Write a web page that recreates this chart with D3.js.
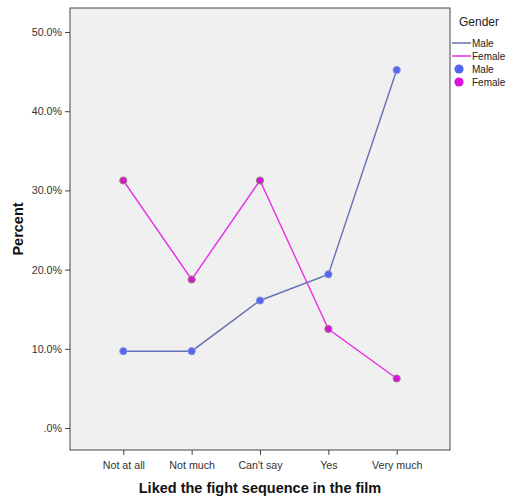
<!DOCTYPE html>
<html>
<head>
<meta charset="utf-8">
<script src="https://cdn.jsdelivr.net/npm/d3@7"></script>
<style>
  html, body { margin: 0; padding: 0; background: #fff; }
  svg { display: block; font-family: "Liberation Sans", Arial, sans-serif; }
</style>
</head>
<body>
<svg id="chart" width="507" height="497"></svg>
<script>
const categories = ["Not at all", "Not much", "Can't say", "Yes", "Very much"];
const maleValues = [9.7, 9.7, 16.1, 19.4, 45.2];
const femaleValues = [31.25, 18.75, 31.25, 12.5, 6.25];
const yTicks = [0, 10, 20, 30, 40, 50];
const seriesNames = ["Male", "Female"];

const svg = d3.select("#chart");
const pLeft = 70, pRight = 450, pTop = 8, pBottom = 450;

const x = d3.scalePoint().domain(categories).range([pLeft, pRight]).padding(0.78);
const y = d3.scaleLinear().domain([0, 50]).range([428, 32]);

// plot background + frame
svg.append("rect").attr("x", pLeft).attr("y", pTop)
  .attr("width", pRight - pLeft).attr("height", pBottom - pTop)
  .attr("fill", "#f0f0f0").attr("stroke", "#444").attr("stroke-width", 1);

// y axis
const yAxis = d3.axisLeft(y).tickValues(yTicks).tickSize(5).tickPadding(3)
  .tickFormat(d => d === 0 ? ".0%" : d3.format(".1f")(d) + "%");
const gy = svg.append("g").attr("transform", `translate(${pLeft},0)`).call(yAxis);
gy.select(".domain").remove();
gy.selectAll("line").attr("stroke", "#444");
gy.selectAll("text").attr("fill", "#333").style("font-size", "10.7px");

// x axis
const xAxis = d3.axisBottom(x).tickSize(5).tickPadding(6);
const gx = svg.append("g").attr("transform", `translate(0,${pBottom})`).call(xAxis);
gx.select(".domain").remove();
gx.selectAll("line").attr("stroke", "#444");
gx.selectAll("text").attr("fill", "#333").style("font-size", "10.7px");

// axis titles
svg.append("text").attr("x", (pLeft + pRight) / 2).attr("y", 493)
  .attr("text-anchor", "middle").style("font-size", "14.5px").style("font-weight", "bold")
  .attr("fill", "#111").text("Liked the fight sequence in the film");
svg.append("text").attr("transform", `translate(23,${(pTop + pBottom) / 2}) rotate(-90)`)
  .attr("text-anchor", "middle").style("font-size", "14.5px").style("font-weight", "bold")
  .attr("fill", "#111").text("Percent");

const lineColors = { Male: "#6470b8", Female: "#e633e6" };
const pointColors = { Male: "#5566ee", Female: "#dd11dd" };
const pointStroke = { Male: "#8890d8", Female: "#8a8a70" };
const dataBy = { Male: maleValues, Female: femaleValues };

const line = d3.line().x((d, i) => x(categories[i])).y(d => y(d));

["Female", "Male"].forEach(name => {
  svg.append("path").datum(dataBy[name])
    .attr("fill", "none").attr("stroke", lineColors[name]).attr("stroke-width", 1.4)
    .attr("d", line);
});
["Female", "Male"].forEach(name => {
  svg.selectAll(null).data(dataBy[name]).enter().append("circle")
    .attr("cx", (d, i) => x(categories[i])).attr("cy", d => y(d))
    .attr("r", 3.6).attr("fill", pointColors[name])
    .attr("stroke", pointStroke[name]).attr("stroke-width", 1);
});

// legend
const lg = svg.append("g");
lg.append("text").attr("x", 459).attr("y", 26).style("font-size", "12px").attr("fill", "#222").text("Gender");
seriesNames.forEach((name, i) => {
  const yy = 43 + i * 13;
  lg.append("line").attr("x1", 452).attr("x2", 471).attr("y1", yy).attr("y2", yy)
    .attr("stroke", lineColors[name]).attr("stroke-width", 1.5);
  lg.append("text").attr("x", 472).attr("y", yy + 3.5).style("font-size", "10px").attr("fill", "#222").text(name);
});
seriesNames.forEach((name, i) => {
  const yy = 69 + i * 13;
  lg.append("circle").attr("cx", 459).attr("cy", yy).attr("r", 4.6).attr("fill", pointColors[name]);
  lg.append("text").attr("x", 472).attr("y", yy + 3.5).style("font-size", "10px").attr("fill", "#222").text(name);
});
</script>
</body>
</html>
